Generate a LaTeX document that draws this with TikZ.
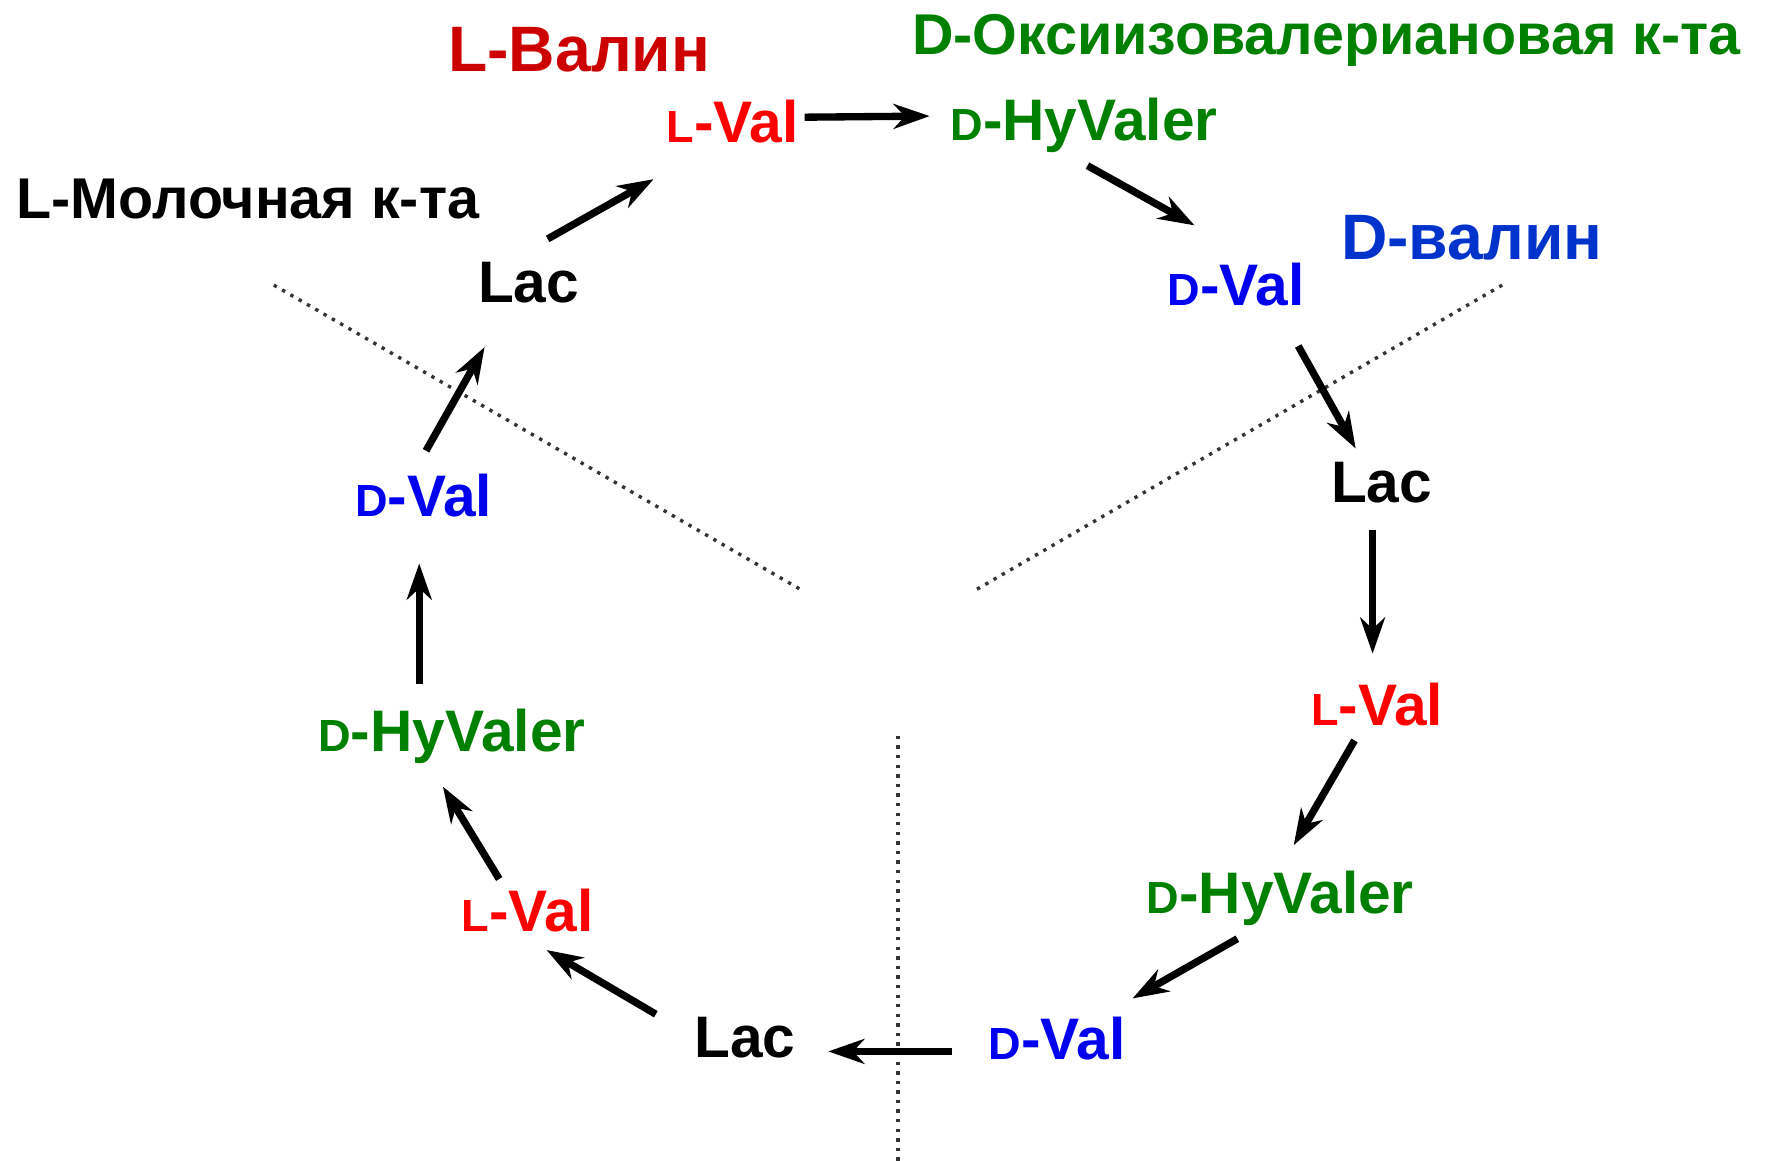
\documentclass[tikz,border=0pt]{standalone}
\usepackage{fontspec}
\setmainfont{Liberation Sans}
\usepackage{xcolor}
\usetikzlibrary{arrows.meta}

\definecolor{valred}{HTML}{FF0000}
\definecolor{titlered}{HTML}{CC0000}
\definecolor{hygreen}{HTML}{008000}
\definecolor{valblue}{HTML}{0000EE}
\definecolor{titleblue}{HTML}{0033CC}

\newcommand{\pfx}[1]{{\fontsize{40}{40}\selectfont #1}}

\tikzset{
  lbl/.style={inner sep=0pt, text height=37pt, text depth=0pt,
    font=\fontsize{52}{52}\selectfont\bfseries},
  ttl/.style={lbl, font=\fontsize{51}{51}\selectfont\bfseries},
  bigttl/.style={lbl, text height=41pt, font=\fontsize{57}{57}\selectfont\bfseries},
  sep/.style={line width=3pt, dash pattern=on 3pt off 5.5pt, black!80}
}

\begin{document}
\begin{tikzpicture}[x=1pt, y=-1pt]
        \useasboundingbox (0,0) rectangle (1568,1030);
        % titles
        \node[bigttl, titlered]  (tval) at (514,43)   {L-Валин};
        \node[ttl, hygreen]      (thyv) at (1177,30)  {D-Оксиизовалериановая к-та};
        \node[ttl]               (tlac) at (220,175)  {L-Молочная к-та};
        \node[bigttl, titleblue] (tdval) at (1306,210) {D-валин};
        % ring
        \node[lbl, valred]  (lvalT) at (650,108)  {\pfx{L}-Val};
        \node[lbl, hygreen] (hyvT)  at (962,106)  {\pfx{D}-HyValer};
        \node[lbl, valblue] (dvalR) at (1097,253) {\pfx{D}-Val};
        \node[lbl]          (lacR)  at (1226,427) {Lac};
        \node[lbl, valred]  (lvalR) at (1222,625) {\pfx{L}-Val};
        \node[lbl, hygreen] (hyvR)  at (1136,792) {\pfx{D}-HyValer};
        \node[lbl, valblue] (dvalB) at (938,922)  {\pfx{D}-Val};
        \node[lbl]          (lacB)  at (661,920)  {Lac};
        \node[lbl, valred]  (lvalL) at (468,808)  {\pfx{L}-Val};
        \node[lbl, hygreen] (hyvL)  at (401,648)  {\pfx{D}-HyValer};
        \node[lbl, valblue] (dvalL) at (376,440)  {\pfx{D}-Val};
        \node[lbl]          (lacL)  at (469,250)  {Lac};
        % dotted dividers
        \coordinate (s1a) at (243,253);  \coordinate (s1b) at (712,524);
        \coordinate (s2a) at (1333,253); \coordinate (s2b) at (865,524);
        \coordinate (s3a) at (797,653);  \coordinate (s3b) at (797,1030);
        \draw[sep] (s1a) -- (s1b);
        \draw[sep] (s2a) -- (s2b);
        \draw[sep] (s3a) -- (s3b);
        \path[->, line width=6.5pt, >={Stealth[length=32pt, width=22pt, inset=10pt]}]
        ([shift={(64,-4)}]lvalT.center)  edge ([shift={(-137,-3)}]hyvT.center)
        ([shift={(3,41)}]hyvT.center)    edge ([shift={(-37,-53)}]dvalR.center)
        ([shift={(55,54)}]dvalR.center)  edge ([shift={(-23,-29)}]lacR.center)
        ([shift={(-8,43)}]lacR.center)   edge ([shift={(-4,-45)}]lvalR.center)
        ([shift={(-20,32)}]lvalR.center) edge ([shift={(12,-42)}]hyvR.center)
        ([shift={(-38,41)}]hyvR.center)  edge ([shift={(67,-36)}]dvalB.center)
        ([shift={(-93,11)}]dvalB.center) edge ([shift={(74,13)}]lacB.center)
        ([shift={(-79,-20)}]lacB.center) edge ([shift={(17,35)}]lvalL.center)
        ([shift={(-25,-28)}]lvalL.center) edge ([shift={(-8,50)}]hyvL.center)
        ([shift={(-29,-41)}]hyvL.center) edge ([shift={(-4,60)}]dvalL.center)
        ([shift={(2,-40)}]dvalL.center)  edge ([shift={(-39,58)}]lacL.center)
        ([shift={(17,-38)}]lacL.center)  edge ([shift={(-70,51)}]lvalT.center);
      \end{tikzpicture}
\end{document}
